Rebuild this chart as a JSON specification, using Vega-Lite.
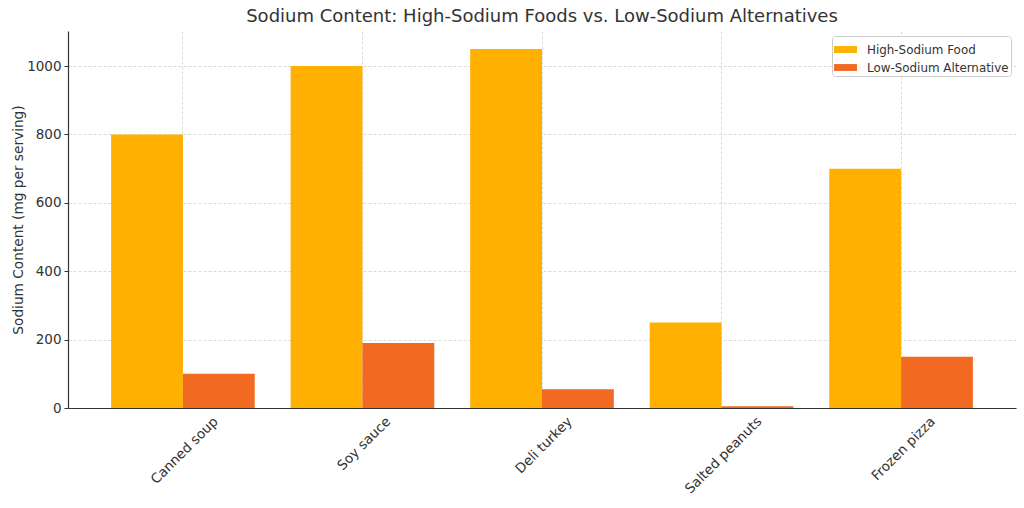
{
  "$schema": "https://vega.github.io/schema/vega-lite/v6.json",
  "width": 948,
  "height": 377,
  "autosize": "none",
  "padding": {"left": 68, "top": 31, "right": 8, "bottom": 100},
  "background": "white",
  "title": {
    "text": "Sodium Content: High-Sodium Foods vs. Low-Sodium Alternatives",
    "fontSize": 18,
    "fontWeight": "normal",
    "font": "DejaVu Sans",
    "color": "#333333",
    "anchor": "middle",
    "baseline": "top",
    "offset": 5
  },
  "data": {
    "values": [
      {"food": "Canned soup", "type": "High-Sodium Food", "sodium": 800},
      {"food": "Canned soup", "type": "Low-Sodium Alternative", "sodium": 100},
      {"food": "Soy sauce", "type": "High-Sodium Food", "sodium": 1000},
      {"food": "Soy sauce", "type": "Low-Sodium Alternative", "sodium": 190},
      {"food": "Deli turkey", "type": "High-Sodium Food", "sodium": 1050},
      {"food": "Deli turkey", "type": "Low-Sodium Alternative", "sodium": 55},
      {"food": "Salted peanuts", "type": "High-Sodium Food", "sodium": 250},
      {"food": "Salted peanuts", "type": "Low-Sodium Alternative", "sodium": 5},
      {"food": "Frozen pizza", "type": "High-Sodium Food", "sodium": 700},
      {"food": "Frozen pizza", "type": "Low-Sodium Alternative", "sodium": 150}
    ]
  },
  "mark": {"type": "bar"},
  "encoding": {
    "x": {
      "field": "food",
      "type": "nominal",
      "sort": ["Canned soup", "Soy sauce", "Deli turkey", "Salted peanuts", "Frozen pizza"],
      "scale": {"paddingInner": 0.2, "paddingOuter": 0.24},
      "axis": {
        "title": null,
        "grid": true,
        "gridColor": "#d0d0d0",
        "gridDash": [3, 2],
        "gridWidth": 0.8,
        "ticks": false,
        "domainColor": "#333333",
        "domainWidth": 1.2,
        "labelAngle": -45,
        "labelAlign": "right",
        "labelBaseline": "middle",
        "labelPadding": 11,
        "labelOffset": {
          "condition": [
            {"test": "datum.value === 'Canned soup'", "value": 33},
            {"test": "datum.value === 'Soy sauce'", "value": 26},
            {"test": "datum.value === 'Deli turkey'", "value": 28},
            {"test": "datum.value === 'Salted peanuts'", "value": 38},
            {"test": "datum.value === 'Frozen pizza'", "value": 32}
          ],
          "value": 0
        },
        "labelFontSize": 13.5,
        "labelColor": "#333333",
        "labelFont": "DejaVu Sans"
      }
    },
    "xOffset": {
      "field": "type",
      "sort": ["High-Sodium Food", "Low-Sodium Alternative"],
      "scale": {"paddingInner": 0, "paddingOuter": 0}
    },
    "y": {
      "field": "sodium",
      "type": "quantitative",
      "scale": {"domain": [0, 1102.5], "nice": false},
      "axis": {
        "title": "Sodium Content (mg per serving)",
        "titleFontSize": 13.7,
        "titleFontWeight": "normal",
        "titleColor": "#333333",
        "titleFont": "DejaVu Sans",
        "titlePadding": 1,
        "values": [0, 200, 400, 600, 800, 1000],
        "format": "d",
        "grid": true,
        "gridColor": "#d0d0d0",
        "gridDash": [3, 2],
        "gridWidth": 0.8,
        "tickSize": 4,
        "tickColor": "#333333",
        "domainColor": "#333333",
        "domainWidth": 1.2,
        "labelPadding": 3,
        "labelFontSize": 13.5,
        "labelColor": "#333333",
        "labelFont": "DejaVu Sans"
      }
    },
    "color": {
      "field": "type",
      "type": "nominal",
      "sort": ["High-Sodium Food", "Low-Sodium Alternative"],
      "scale": {"range": ["#FFB000", "#F26A21"]},
      "legend": {
        "title": null,
        "orient": "top-right",
        "offset": 5,
        "padding": 2,
        "strokeColor": "#cccccc",
        "fillColor": "rgba(255,255,255,0.8)",
        "cornerRadius": 3,
        "symbolType": "M-1,-0.3H1V0.3H-1Z",
        "symbolSize": 529,
        "symbolStrokeWidth": 0,
        "symbolOpacity": 1,
        "labelFontSize": 11.9,
        "labelColor": "#333333",
        "labelFont": "DejaVu Sans",
        "labelOffset": 10,
        "rowPadding": -1
      }
    }
  },
  "config": {"view": {"stroke": null}, "font": "DejaVu Sans"}
}
